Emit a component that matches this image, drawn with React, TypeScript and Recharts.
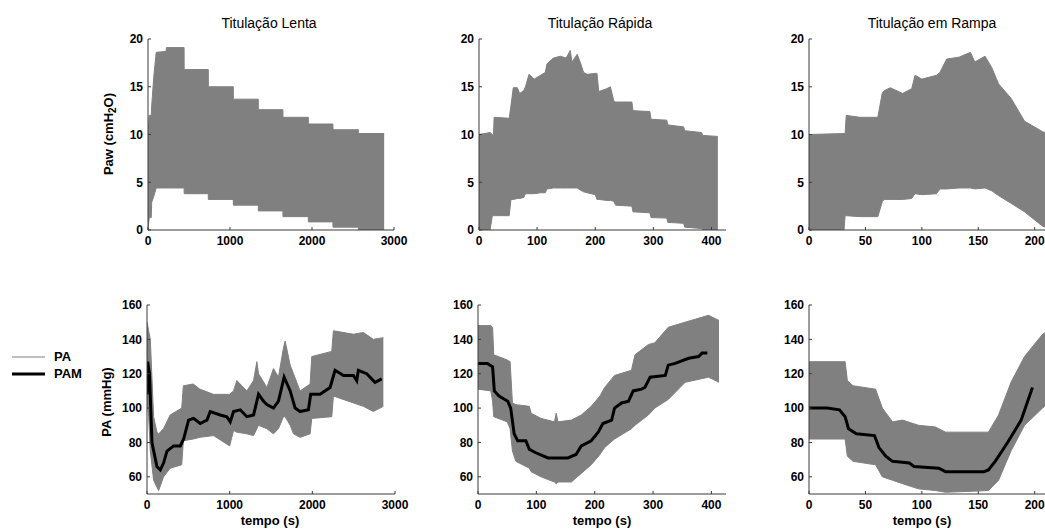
import React from 'react';
import { ComposedChart, Area, Line, XAxis, YAxis, Legend } from 'recharts';

// Paw (cmH2O) envelopes, top row
const lentaPawT = [0, 15, 40, 45, 70, 100, 220, 225, 440, 441, 735, 736, 1040, 1041, 1345, 1346, 1645, 1646, 1955, 1956, 2255, 2256, 2565, 2566, 2880];
const lentaPawHi = [10, 12, 12, 13, 16, 18.6, 18.7, 19.1, 19.1, 16.8, 16.8, 15.0, 15.0, 13.7, 13.7, 12.6, 12.6, 11.8, 11.8, 11.1, 11.1, 10.5, 10.5, 10.1, 10.1];
const lentaPawLo = [0, 1.3, 1.3, 2.9, 3.5, 4.4, 4.4, 4.4, 4.4, 3.8, 3.8, 3.2, 3.2, 2.6, 2.6, 2.0, 2.0, 1.4, 1.4, 0.85, 0.85, 0.3, 0.3, 0, 0];

const rapidaPawT = [0, 19, 23, 25, 26, 52, 55, 59, 66, 70, 77, 80, 86, 95, 106, 114, 117, 128, 140, 150, 157, 160, 169, 174, 180, 186, 200, 203, 206, 220, 226, 232, 235, 263, 265, 294, 296, 323, 325, 352, 354, 383, 385, 411];
const rapidaPawHi = [10, 10.2, 10, 10, 11.8, 11.7, 13, 14.9, 14.9, 14.3, 14.6, 15.0, 16.3, 15.8, 16.2, 16.5, 17.4, 18.0, 18.2, 18.0, 18.8, 17.6, 18.4, 17.6, 16.5, 16.3, 16.4, 16.4, 14.5, 14.8, 15.0, 13.5, 13.4, 13.4, 12.5, 12.4, 11.6, 11.5, 11.0, 10.8, 10.4, 10.2, 9.9, 9.8];
const rapidaPawLo = [0, 0, 1.5, 1.5, 1.5, 1.5, 3.2, 3.2, 3.3, 3.3, 3.4, 3.8, 3.8, 3.8, 3.9, 3.9, 4.3, 4.4, 4.4, 4.4, 4.4, 4.4, 4.4, 4.2, 4.0, 3.9, 3.7, 3.2, 3.2, 3.1, 3.1, 3.0, 2.6, 2.5, 1.9, 1.8, 1.3, 1.25, 0.8, 0.7, 0.3, 0.15, 0, 0];

const rampaPawT = [0, 31, 32, 33, 45, 61, 65, 67, 72, 83, 91, 94, 100, 113, 116, 122, 133, 143, 147, 156, 162, 168, 179, 191, 207, 218];
const rampaPawHi = [10.0, 10.1, 10.1, 12.0, 11.8, 11.8, 14.4, 14.6, 14.9, 14.3, 14.8, 16.2, 15.8, 16.2, 16.5, 17.9, 18.1, 18.6, 17.6, 18.2, 17.0, 15.3, 13.8, 11.4, 10.3, 9.8];
const rampaPawLo = [0, 0, 1.5, 1.5, 1.4, 1.4, 3.0, 3.2, 3.2, 3.2, 3.3, 3.8, 3.7, 3.8, 4.3, 4.3, 4.4, 4.4, 4.3, 4.4, 4.1, 3.6, 2.8, 1.9, 0.4, 0];

// PA (mmHg) envelopes and PAM, bottom row
const lentaPaT = [0, 20, 40, 80, 120, 141, 200, 280, 420, 440, 560, 640, 805, 1000, 1047, 1087, 1208, 1289, 1329, 1349, 1450, 1530, 1590, 1651, 1671, 1732, 1772, 1852, 1973, 1993, 2235, 2255, 2497, 2618, 2738, 2859];
const lentaPaHi = [150, 145, 140, 95, 86, 85, 88, 96, 100, 113, 114, 111, 108, 108, 110, 116, 110, 116, 127, 120, 112, 123, 118, 135, 139, 125, 120, 110, 114, 130, 133, 145, 143, 144, 140, 141];
const lentaPaLo = [105, 95, 75, 58, 54, 52, 60, 65, 67, 81, 82, 83, 84, 78, 87, 86, 85, 84, 88, 90, 88, 85, 88, 95, 95, 90, 85, 83, 85, 94, 95, 107, 103, 101, 98, 101];
const lentaPamT = [0, 8, 30, 60, 120, 161, 200, 242, 322, 403, 443, 503, 564, 644, 725, 765, 886, 966, 1007, 1047, 1128, 1208, 1289, 1349, 1410, 1450, 1530, 1590, 1659, 1732, 1792, 1852, 1953, 1980, 2094, 2215, 2275, 2376, 2497, 2537, 2557, 2658, 2758, 2839];
const lentaPam = [108, 127, 120, 80, 66, 64, 68, 75, 78, 78, 82, 93, 94, 91, 93, 98, 96, 95, 92, 98, 99, 95, 96, 108, 104, 102, 100, 104, 118, 110, 100, 98, 99, 108, 108, 112, 122, 119, 119, 116, 122, 120, 115, 117];

const rapidaPaT = [0, 22, 25, 27, 50, 55, 59, 65, 88, 91, 108, 131, 134, 137, 160, 177, 194, 209, 217, 234, 263, 269, 292, 303, 326, 355, 395, 413];
const rapidaPaHi = [148, 148, 147, 131, 128, 127, 103, 102, 101, 97, 94, 92, 97, 92, 93, 96, 101, 107, 112, 119, 122, 131, 137, 138, 147, 150, 154, 151];
const rapidaPaLo = [111, 110, 104, 95, 92, 88, 75, 69, 65, 63, 60, 57, 56, 57, 57, 62, 67, 73, 77, 82, 88, 90, 96, 100, 105, 115, 118, 115];
const rapidaPamT = [0, 16, 25, 28, 36, 51, 56, 62, 68, 82, 88, 99, 120, 154, 168, 177, 194, 206, 214, 229, 234, 246, 258, 266, 280, 286, 295, 321, 326, 338, 361, 378, 384, 393];
const rapidaPam = [126, 126, 124, 110, 107, 104, 100, 85, 81, 81, 76, 74, 71, 71, 73, 78, 81, 86, 91, 93, 100, 103, 104, 110, 111, 112, 118, 119, 125, 126, 129, 130, 132, 132];

const rampaPaT = [0, 32, 34, 39, 59, 65, 74, 83, 97, 112, 121, 159, 168, 179, 191, 207, 218];
const rampaPaHi = [127, 127, 116, 113, 111, 100, 92, 93, 90, 89, 86, 86, 96, 115, 130, 143, 147];
const rampaPaLo = [82, 82, 72, 69, 67, 60, 58, 56, 53, 52, 51, 52, 58, 75, 90, 100, 106];
const rampaPamT = [0, 16, 27, 32, 35, 42, 58, 62, 68, 74, 89, 93, 115, 121, 155, 159, 165, 176, 188, 198];
const rampaPam = [100, 100, 99, 95, 88, 85, 84, 77, 72, 69, 68, 66, 65, 63, 63, 64, 69, 80, 93, 112];

const pawTicks = [0, 5, 10, 15, 20];
const paTicks = [60, 80, 100, 120, 140, 160];

const GRAY = '#808080';
const AXIS = '#3a3a3a';
const FONT = '"Liberation Sans", Arial, sans-serif';
const YW = 60;
const XH = 30;
const MT = 10;
const MR = 25;

const toBand = (t: number[], hi: number[], lo: number[]) => t.map((x, i) => ({ t: x, hi: hi[i], lo: lo[i] }));
const toLine = (t: number[], v: number[]) => t.map((x, i) => ({ t: x, pam: v[i] }));

const tickStyle = { fill: '#000', fontSize: 12, fontWeight: 'bold', fontFamily: FONT };

const renderLegend = (props: any) => {
  const { payload = [] } = props;
  return (
    <div style={{ fontFamily: FONT }}>
      {payload.map((entry: any) => {
        const isPam = entry.value === 'PAM';
        return (
          <div key={entry.value} style={{ display: 'flex', alignItems: 'center', height: 17 }}>
            <svg width={33} height={6}>
              <line x1={0} x2={33} y1={3} y2={3} stroke={isPam ? '#000' : GRAY} strokeWidth={isPam ? 3 : 1} />
            </svg>
            <span style={{ marginLeft: 9, fontWeight: 'bold', fontSize: 13, color: '#000' }}>{entry.value}</span>
          </div>
        );
      })}
    </div>
  );
};

interface PanelProps {
  x0: number;
  y0: number;
  w: number;
  h: number;
  xMax: number;
  xTicks: number[];
  yDomain: [number, number];
  yTicks: number[];
  band: any[];
  pam?: any[];
  yLabel?: { x: number; y: number; sub?: boolean; text: string };
  legend?: boolean;
}

const Panel = ({ x0, y0, w, h, xMax, xTicks, yDomain, yTicks, band, pam, yLabel, legend }: PanelProps) => {
  const left = x0 - YW;
  const top = y0 - MT;
  const labelContent = () => {
    if (!yLabel) return null;
    const lx = yLabel.x - left;
    const ly = yLabel.y - top;
    return (
      <text
        x={lx}
        y={ly}
        transform={`rotate(-90, ${lx}, ${ly})`}
        textAnchor="middle"
        dominantBaseline="central"
        fontFamily={FONT}
        fontSize={13}
        fontWeight="bold"
        fill="#000"
      >
        {yLabel.sub ? (
          <>
            <tspan>Paw (cmH</tspan>
            <tspan dy={4} fontSize={10}>2</tspan>
            <tspan dy={-4}>O)</tspan>
          </>
        ) : (
          yLabel.text
        )}
      </text>
    );
  };
  return (
    <div style={{ position: 'absolute', left, top }}>
      <ComposedChart width={YW + w + MR} height={MT + h + XH} margin={{ top: MT, right: MR, left: 0, bottom: 0 }}>
        <XAxis
          type="number"
          dataKey="t"
          domain={[0, xMax]}
          ticks={xTicks}
          interval={0}
          allowDataOverflow
          height={XH}
          tickSize={-3}
          tickMargin={9}
          stroke={AXIS}
          tick={tickStyle}
        />
        <YAxis
          type="number"
          domain={yDomain}
          ticks={yTicks}
          interval={0}
          allowDataOverflow
          width={YW}
          tickSize={-3}
          tickMargin={8}
          stroke={AXIS}
          tick={tickStyle}
          label={{ content: labelContent }}
        />
        <Area
          data={band}
          dataKey={(d: any) => [d.lo, d.hi]}
          name="PA"
          type="linear"
          stroke={GRAY}
          strokeWidth={1}
          fill={GRAY}
          fillOpacity={1}
          isAnimationActive={false}
        />
        {pam && (
          <Line
            data={pam}
            dataKey="pam"
            name="PAM"
            type="linear"
            stroke="#000"
            strokeWidth={3}
            dot={false}
            isAnimationActive={false}
          />
        )}
        {legend && (
          <Legend
            layout="vertical"
            align="center"
            verticalAlign="middle"
            content={renderLegend}
            wrapperStyle={{ left: 12 - left, top: 348 - top, width: 'auto', height: 'auto' }}
          />
        )}
      </ComposedChart>
    </div>
  );
};

const textBase: React.CSSProperties = { position: 'absolute', width: 200, textAlign: 'center', fontFamily: FONT, color: '#000', whiteSpace: 'nowrap' };

const titles = [
  { text: 'Titulação Lenta', cx: 269 },
  { text: 'Titulação Rápida', cx: 600 },
  { text: 'Titulação em Rampa', cx: 932 },
];
const xLabelCenters = [270, 602, 922];

export default function App() {
  const top0 = 39;
  const top1 = 305;
  return (
    <div style={{ position: 'absolute', left: 0, top: 0, width: 1045, height: 529, overflow: 'hidden', background: '#fff' }}>
      {titles.map((t) => (
        <div key={t.text} style={{ ...textBase, left: t.cx - 100, top: 16, fontSize: 14, lineHeight: '14px' }}>{t.text}</div>
      ))}
      {xLabelCenters.map((cx) => (
        <div key={cx} style={{ ...textBase, left: cx - 100, top: 514, fontSize: 13, lineHeight: '13px', fontWeight: 'bold' }}>tempo (s)</div>
      ))}
      <Panel x0={148} y0={top0} w={246} h={191} xMax={3000} xTicks={[0, 1000, 2000, 3000]} yDomain={[0, 20]} yTicks={pawTicks}
        band={toBand(lentaPawT, lentaPawHi, lentaPawLo)} yLabel={{ x: 108, y: 134, sub: true, text: 'Paw (cmH2O)' }} />
      <Panel x0={479} y0={top0} w={247} h={191} xMax={425} xTicks={[0, 100, 200, 300, 400]} yDomain={[0, 20]} yTicks={pawTicks}
        band={toBand(rapidaPawT, rapidaPawHi, rapidaPawLo)} />
      <Panel x0={809} y0={top0} w={246} h={191} xMax={218} xTicks={[0, 50, 100, 150, 200]} yDomain={[0, 20]} yTicks={pawTicks}
        band={toBand(rampaPawT, rampaPawHi, rampaPawLo)} />
      <Panel x0={147} y0={top1} w={248} h={189} xMax={3000} xTicks={[0, 1000, 2000, 3000]} yDomain={[50, 160]} yTicks={paTicks}
        band={toBand(lentaPaT, lentaPaHi, lentaPaLo)} pam={toLine(lentaPamT, lentaPam)}
        yLabel={{ x: 106, y: 402, text: 'PA (mmHg)' }} legend />
      <Panel x0={478} y0={top1} w={248} h={189} xMax={425} xTicks={[0, 100, 200, 300, 400]} yDomain={[50, 160]} yTicks={paTicks}
        band={toBand(rapidaPaT, rapidaPaHi, rapidaPaLo)} pam={toLine(rapidaPamT, rapidaPam)} />
      <Panel x0={809} y0={top1} w={246} h={189} xMax={218} xTicks={[0, 50, 100, 150, 200]} yDomain={[50, 160]} yTicks={paTicks}
        band={toBand(rampaPaT, rampaPaHi, rampaPaLo)} pam={toLine(rampaPamT, rampaPam)} />
    </div>
  );
}
